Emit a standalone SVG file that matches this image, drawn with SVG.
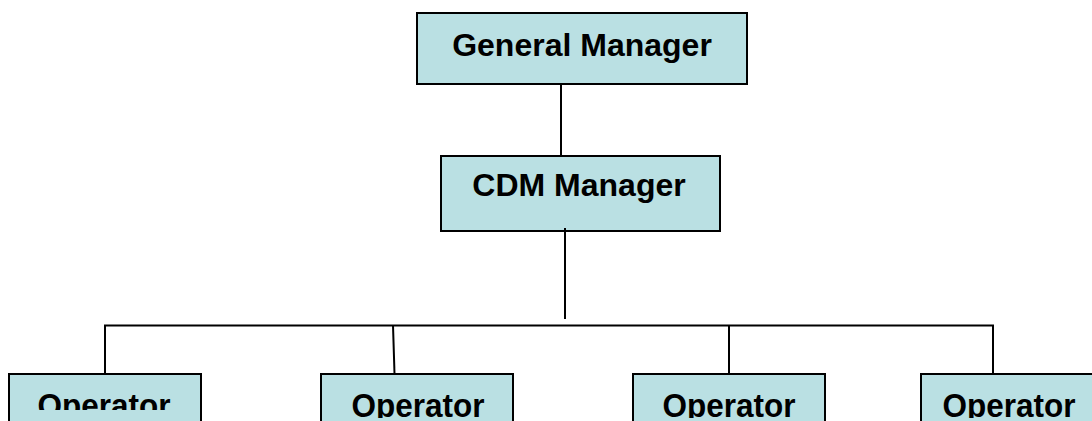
<svg xmlns="http://www.w3.org/2000/svg" width="1092" height="421" viewBox="0 0 1092 421">
  <style>
    .box { fill: #bae0e3; stroke: #000; stroke-width: 2; }
    .lbl { font-family: "Liberation Sans", Arial, sans-serif; font-weight: bold; font-size: 32px; fill: #000; text-anchor: middle; }
    .op { font-size: 31.5px; }
    .wire { stroke: #000; stroke-width: 2; fill: none; }
  </style>
  <defs>
    <!-- bottom row labels are cut off at the lower edge of the visible area -->
    <clipPath id="cut-low">
      <rect x="0" y="370" width="1092" height="48"/>
    </clipPath>
    <clipPath id="cut-high">
      <rect x="0" y="370" width="220" height="40"/>
    </clipPath>
  </defs>
  <rect width="1092" height="421" fill="#fff"/>

  <g id="connectors">
    <line class="wire" x1="561" y1="84" x2="561" y2="156"/>
    <line class="wire" x1="565" y1="228" x2="565" y2="319"/>
    <line class="wire" x1="104" y1="325.5" x2="994" y2="325.5"/>
    <line class="wire" x1="105" y1="325" x2="105" y2="374"/>
    <line class="wire" x1="393" y1="325" x2="394.5" y2="374"/>
    <line class="wire" x1="729" y1="325" x2="729" y2="374"/>
    <line class="wire" x1="993" y1="325" x2="993" y2="374"/>
  </g>

  <g id="general-manager">
    <rect class="box" x="417" y="13" width="330" height="71"/>
    <text class="lbl" x="582" y="56">General Manager</text>
  </g>

  <g id="cdm-manager">
    <rect class="box" x="441" y="156" width="279" height="75"/>
    <line class="wire" x1="565" y1="228" x2="565" y2="231"/>
    <text class="lbl" x="579" y="196">CDM Manager</text>
  </g>

  <g id="operator-1">
    <rect class="box" x="9" y="374" width="192" height="60"/>
    <g clip-path="url(#cut-high)">
      <text class="lbl op" transform="translate(104,417) scale(1,1.08)">Operator</text>
    </g>
  </g>

  <g id="operator-2">
    <rect class="box" x="321" y="374" width="192" height="60"/>
    <g clip-path="url(#cut-low)">
      <text class="lbl op" transform="translate(418,417) scale(1,1.08)">Operator</text>
    </g>
  </g>

  <g id="operator-3">
    <rect class="box" x="633" y="374" width="192" height="60"/>
    <g clip-path="url(#cut-low)">
      <text class="lbl op" transform="translate(729,417) scale(1,1.08)">Operator</text>
    </g>
  </g>

  <g id="operator-4">
    <rect class="box" x="921" y="374" width="192" height="60"/>
    <g clip-path="url(#cut-low)">
      <text class="lbl op" transform="translate(1009,417) scale(1,1.08)">Operator</text>
    </g>
  </g>
</svg>
